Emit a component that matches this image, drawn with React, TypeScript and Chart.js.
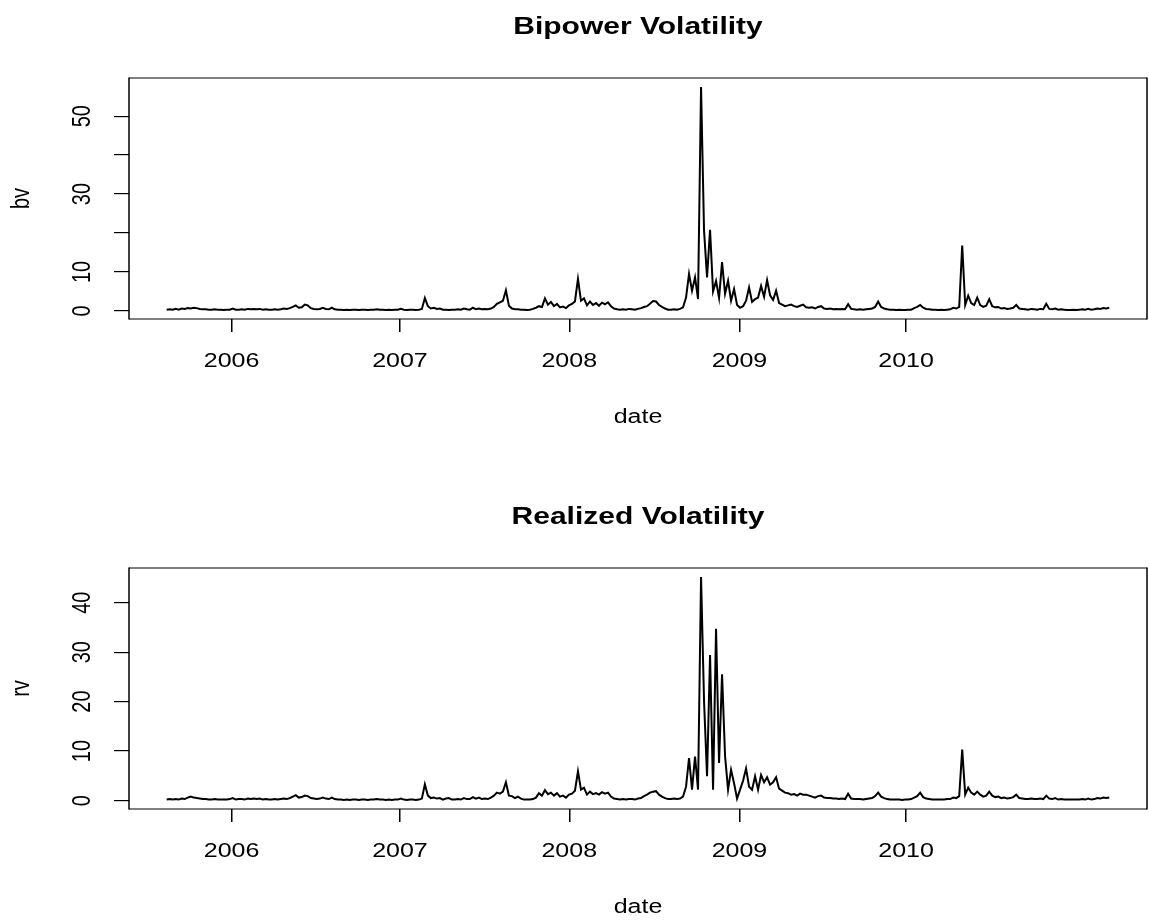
import React, { useEffect, useRef } from 'react';
import { Chart, registerables } from 'chart.js';

Chart.register(...registerables);

// x positions are observation indices; year ticks at the index where each year starts
const xTickPositions = [21.6, 77.7, 134.1, 190.8, 246.3];
const xTickLabels = ['2006', '2007', '2008', '2009', '2010'];

const bvTicks = [0, 10, 20, 30, 40, 50];
const bvTickLabels = ['0', '10', '', '30', '', '50'];
const rvTicks = [0, 10, 20, 30, 40];
const rvTickLabels = ['0', '10', '20', '30', '40'];

const bv = [
  0.3, 0.4, 0.3, 0.5, 0.3, 0.6, 0.5, 0.7, 0.6, 0.8,
  0.7, 0.5, 0.4, 0.4, 0.3, 0.3, 0.4, 0.3, 0.3, 0.2,
  0.3, 0.3, 0.6, 0.3, 0.3, 0.4, 0.3, 0.5, 0.4, 0.5,
  0.4, 0.5, 0.3, 0.4, 0.3, 0.3, 0.4, 0.3, 0.4, 0.6,
  0.5, 0.7, 1.0, 1.4, 0.8, 0.9, 1.6, 1.4, 0.7, 0.5,
  0.4, 0.5, 0.8, 0.5, 0.4, 0.8, 0.4, 0.3, 0.3, 0.2,
  0.3, 0.2, 0.3, 0.3, 0.2, 0.3, 0.3, 0.2, 0.3, 0.3,
  0.4, 0.3, 0.3, 0.2, 0.3, 0.2, 0.3, 0.3, 0.5, 0.3,
  0.2, 0.3, 0.3, 0.2, 0.3, 0.5, 3.3, 1.2, 0.6, 0.8,
  0.5, 0.6, 0.3, 0.3, 0.2, 0.3, 0.3, 0.4, 0.3, 0.6,
  0.4, 0.3, 0.8, 0.4, 0.6, 0.4, 0.5, 0.4, 0.6, 1.0,
  1.8, 2.2, 2.6, 5.3, 1.3, 0.6, 0.4, 0.4, 0.3, 0.3,
  0.2, 0.3, 0.5, 0.8, 1.2, 1.0, 3.2, 1.6, 2.3, 1.2,
  1.8, 0.9, 1.1, 0.7, 1.4, 1.8, 2.4, 8.2, 2.6, 3.2,
  1.4, 2.4, 1.5, 2.0, 1.3, 2.1, 1.7, 2.2, 1.2, 0.6,
  0.4, 0.3, 0.4, 0.3, 0.5, 0.4, 0.3, 0.5, 0.7, 1.0,
  1.2, 1.8, 2.5, 2.4, 1.5, 1.0, 0.6, 0.3, 0.3, 0.4,
  0.3, 0.5, 0.9, 3.4, 9.5, 5.2, 8.6, 3.0, 57.5, 20.6,
  8.6, 20.8, 5.0, 7.7, 3.3, 12.5, 4.4, 7.7, 2.6, 5.6,
  1.5, 0.8, 1.2, 2.6, 6.0, 2.3, 3.0, 3.4, 6.4, 3.6,
  7.9, 4.0, 2.8, 5.2, 2.0, 1.6, 1.2, 1.4, 1.6, 1.2,
  1.0, 1.3, 1.6, 0.9, 0.8, 0.9, 0.6, 1.0, 1.2, 0.6,
  0.5, 0.6, 0.4, 0.5, 0.4, 0.5, 0.4, 1.7, 0.5, 0.4,
  0.3, 0.4, 0.3, 0.4, 0.5, 0.6, 1.0, 2.4, 1.0, 0.6,
  0.4, 0.3, 0.3, 0.2, 0.3, 0.2, 0.2, 0.3, 0.3, 0.7,
  1.0, 1.5, 0.8, 0.5, 0.4, 0.3, 0.3, 0.2, 0.3, 0.2,
  0.3, 0.4, 0.8, 0.6, 1.0, 16.8, 1.5, 3.9, 2.0, 1.5,
  3.4, 1.5, 1.0, 1.3, 3.0, 1.2, 0.9, 1.0, 0.6, 0.7,
  0.5, 0.6, 0.8, 1.5, 0.6, 0.5, 0.4, 0.3, 0.5, 0.4,
  0.3, 0.5, 0.4, 1.8, 0.5, 0.4, 0.6, 0.3, 0.4, 0.3,
  0.2, 0.2, 0.3, 0.2, 0.3, 0.4, 0.3, 0.5, 0.3, 0.4,
  0.6, 0.5, 0.7, 0.6, 0.8,
];

const rv = [
  0.2, 0.3, 0.2, 0.3, 0.2, 0.4, 0.3, 0.6, 0.8, 0.6,
  0.5, 0.4, 0.3, 0.3, 0.2, 0.2, 0.3, 0.2, 0.2, 0.2,
  0.2, 0.3, 0.5, 0.2, 0.3, 0.3, 0.2, 0.4, 0.3, 0.4,
  0.3, 0.4, 0.2, 0.3, 0.2, 0.2, 0.3, 0.2, 0.3, 0.4,
  0.3, 0.5, 0.8, 1.1, 0.6, 0.7, 1.0, 0.9, 0.5, 0.4,
  0.3, 0.4, 0.6, 0.4, 0.3, 0.6, 0.3, 0.2, 0.2, 0.1,
  0.2, 0.1, 0.2, 0.2, 0.1, 0.2, 0.2, 0.1, 0.2, 0.2,
  0.3, 0.2, 0.2, 0.1, 0.2, 0.1, 0.2, 0.2, 0.4, 0.2,
  0.1, 0.2, 0.2, 0.1, 0.2, 0.4, 3.3, 1.0, 0.5, 0.6,
  0.4, 0.5, 0.2, 0.4, 0.5, 0.2, 0.2, 0.3, 0.2, 0.5,
  0.3, 0.3, 0.7, 0.4, 0.6, 0.3, 0.4, 0.3, 0.6, 1.0,
  1.6, 1.4, 1.8, 3.7, 1.0, 0.9, 0.5, 0.8, 0.4, 0.2,
  0.2, 0.2, 0.3, 0.6, 1.5, 1.0, 2.1, 1.3, 1.6, 1.0,
  1.5, 0.8, 1.0, 0.6, 1.2, 1.4, 2.0, 5.9, 2.2, 2.6,
  1.2, 1.8, 1.3, 1.5, 1.2, 1.7, 1.4, 1.6, 0.8, 0.4,
  0.3, 0.2, 0.3, 0.2, 0.3, 0.3, 0.2, 0.4, 0.5, 0.9,
  1.2, 1.6, 1.8, 1.9, 1.2, 0.8, 0.5, 0.3, 0.3, 0.4,
  0.3, 0.4, 0.8, 2.8, 8.6, 2.2, 8.9, 2.2, 45.2, 20.1,
  4.9, 29.4, 2.2, 34.7, 7.6, 25.5, 9.0, 2.2, 6.2, 3.5,
  0.4, 2.2, 4.0, 6.5, 2.8, 2.2, 4.9, 2.2, 5.2, 3.7,
  4.7, 3.2, 3.7, 4.7, 2.4, 2.0, 1.6, 1.5, 1.2, 1.3,
  1.0, 1.4, 1.2, 1.2, 1.0, 0.8, 0.6, 0.9, 1.0, 0.6,
  0.5, 0.5, 0.4, 0.4, 0.3, 0.4, 0.3, 1.4, 0.4, 0.3,
  0.3, 0.3, 0.2, 0.3, 0.4, 0.5, 0.9, 1.6, 0.8, 0.5,
  0.3, 0.2, 0.2, 0.2, 0.2, 0.1, 0.2, 0.2, 0.3, 0.6,
  0.9, 1.6, 0.7, 0.4, 0.3, 0.2, 0.2, 0.2, 0.2, 0.2,
  0.3, 0.3, 0.6, 0.5, 0.9, 10.3, 1.2, 2.6, 1.6, 1.2,
  1.8, 1.2, 0.8, 1.0, 1.8, 1.0, 0.7, 0.8, 0.5, 0.6,
  0.4, 0.5, 0.7, 1.2, 0.5, 0.4, 0.3, 0.3, 0.4, 0.3,
  0.3, 0.4, 0.3, 1.0, 0.4, 0.3, 0.5, 0.2, 0.3, 0.2,
  0.2, 0.2, 0.2, 0.2, 0.2, 0.3, 0.2, 0.4, 0.2, 0.3,
  0.5, 0.4, 0.6, 0.5, 0.6,
];

const W = 1149;
const STRETCH = 1.25;
const FONT = '"Liberation Sans", Arial, Helvetica, sans-serif';
const BOX = { left: 129, right: 1147, top: 78, bottom: 319 };

type PanelProps = {
  title: string;
  ylab: string;
  values: number[];
  yTicks: number[];
  yTickLabels: string[];
  top: number;
  height: number;
};

function Panel({ title, ylab, values, yTicks, yTickLabels, top, height }: PanelProps) {
  const ref = useRef<HTMLCanvasElement>(null);

  useEffect(() => {
    if (!ref.current) return;
    const n = values.length;
    const lo = Math.min(...values);
    const hi = Math.max(...values);
    const yExt = (hi - lo) * 0.04;
    const xExt = (n - 1) * 0.04;

    const textPlugin = {
      id: 'rText',
      afterDraw(chart: any) {
        const { ctx, chartArea: a, scales } = chart;
        ctx.save();
        ctx.strokeStyle = '#000';
        ctx.lineWidth = 1.2;
        ctx.beginPath();
        ctx.moveTo(a.left, a.top);
        ctx.lineTo(a.right, a.top);
        ctx.moveTo(a.left, a.bottom);
        ctx.lineTo(a.right, a.bottom);
        ctx.stroke();
        ctx.lineWidth = 1.5;
        ctx.beginPath();
        ctx.moveTo(a.left, a.top - 0.6);
        ctx.lineTo(a.left, a.bottom + 0.6);
        ctx.moveTo(a.right, a.top - 0.6);
        ctx.lineTo(a.right, a.bottom + 0.6);
        ctx.stroke();

        ctx.fillStyle = '#000';
        const put = (text: string, x: number, y: number, font: string, rot = 0) => {
          ctx.save();
          ctx.translate(x, y);
          ctx.scale(STRETCH, 1);
          if (rot) ctx.rotate(rot);
          ctx.font = font;
          ctx.textAlign = 'center';
          ctx.textBaseline = 'middle';
          ctx.fillText(text, 0, 0);
          ctx.restore();
        };
        const cx = (a.left + a.right) / 2;
        put(title, cx, 27, `bold 24px ${FONT}`);
        xTickPositions.forEach((v, i) => {
          put(xTickLabels[i], scales.x.getPixelForValue(v), 361, `20px ${FONT}`);
        });
        put('date', cx, 417, `20px ${FONT}`);
        yTicks.forEach((v, i) => {
          if (yTickLabels[i]) put(yTickLabels[i], 83, scales.y.getPixelForValue(v), `20px ${FONT}`, -Math.PI / 2);
        });
        put(ylab, 22, (a.top + a.bottom) / 2, `20px ${FONT}`, -Math.PI / 2);
        ctx.restore();
      },
    };

    const chart = new Chart(ref.current, {
      type: 'line',
      data: {
        datasets: [
          {
            data: values.map((v, i) => ({ x: i, y: v })),
            borderColor: '#000',
            borderWidth: 2,
            pointRadius: 0,
            tension: 0,
            fill: false,
          },
        ],
      },
      options: {
        animation: false,
        responsive: false,
        devicePixelRatio: 1,
        events: [],
        layout: { padding: { top: BOX.top, left: 0, right: W - BOX.right, bottom: 0 } },
        plugins: { legend: { display: false }, title: { display: false }, tooltip: { enabled: false } },
        scales: {
          x: {
            type: 'linear',
            min: -xExt,
            max: n - 1 + xExt,
            afterFit(scale: any) {
              scale.height = height - BOX.bottom;
            },
            afterBuildTicks(scale: any) {
              scale.ticks = xTickPositions.map((v) => ({ value: v }));
            },
            ticks: { display: false, autoSkip: false },
            grid: { drawOnChartArea: false, drawTicks: true, tickLength: 13, color: '#000', lineWidth: 1.5 },
            border: { display: false },
          },
          y: {
            type: 'linear',
            min: lo - yExt,
            max: hi + yExt,
            afterFit(scale: any) {
              scale.width = BOX.left;
            },
            afterBuildTicks(scale: any) {
              scale.ticks = yTicks.map((v) => ({ value: v }));
            },
            ticks: { display: false, autoSkip: false },
            grid: { drawOnChartArea: false, drawTicks: true, tickLength: 15, color: '#000', lineWidth: 1.2 },
            border: { display: false },
          },
        },
      },
      plugins: [textPlugin],
    } as any);

    return () => chart.destroy();
  }, []);

  return (
    <canvas
      ref={ref}
      width={W}
      height={height}
      style={{ position: 'absolute', left: 0, top, width: W, height, display: 'block' }}
    />
  );
}

export default function App() {
  return (
    <div style={{ position: 'absolute', left: 0, top: 0, width: W, height: 922, background: '#fff' }}>
      <Panel title="Bipower Volatility" ylab="bv" values={bv} yTicks={bvTicks} yTickLabels={bvTickLabels} top={0} height={490} />
      <Panel title="Realized Volatility" ylab="rv" values={rv} yTicks={rvTicks} yTickLabels={rvTickLabels} top={490} height={432} />
    </div>
  );
}
